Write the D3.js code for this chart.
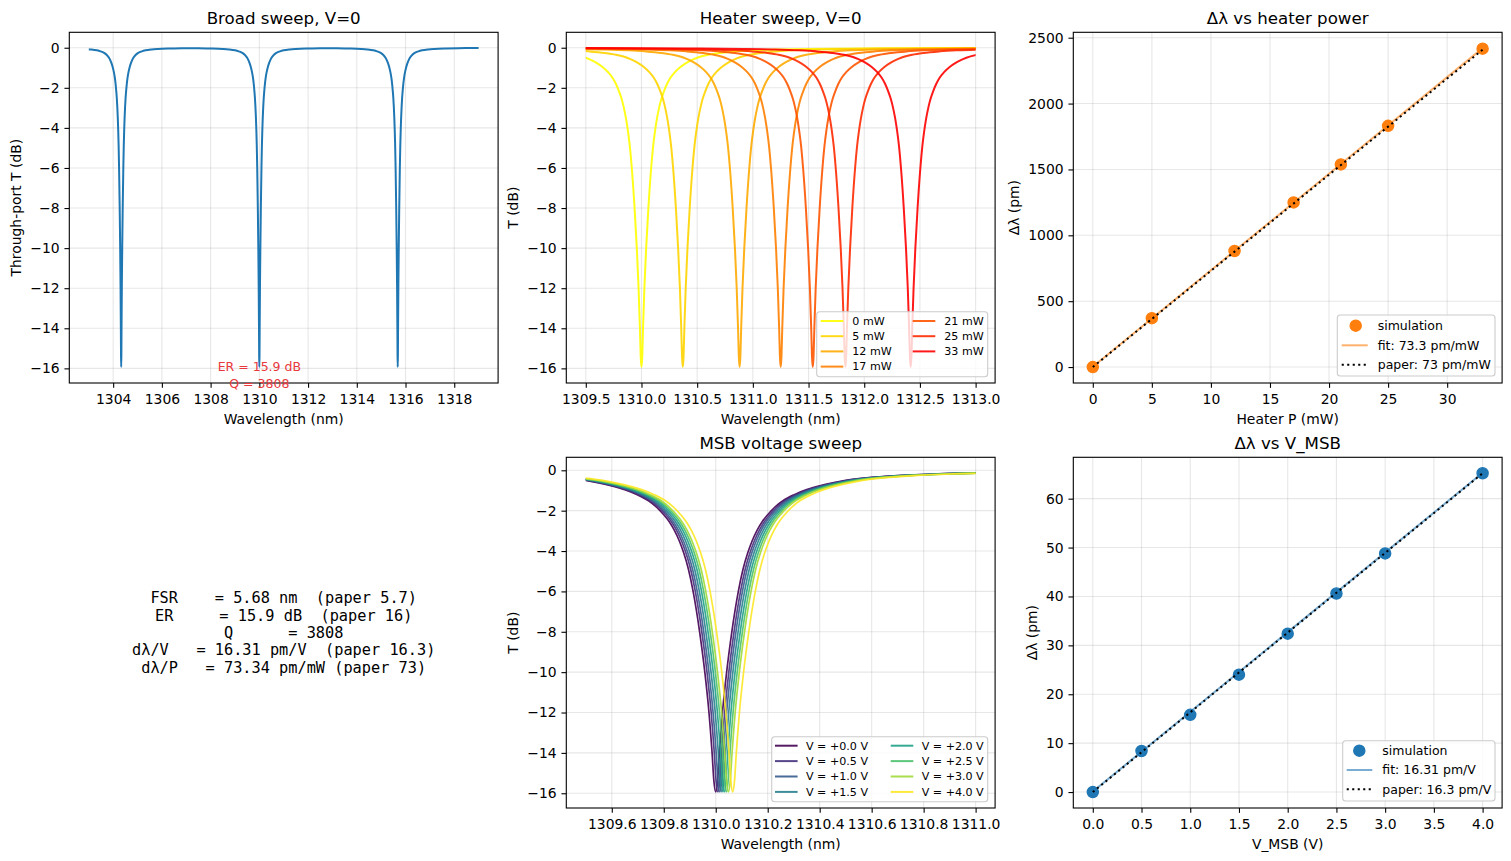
<!DOCTYPE html>
<html>
<head>
<meta charset="utf-8">
<script src="https://cdn.jsdelivr.net/npm/d3@7"></script>
<style>
  body { margin: 0; background: #fff; }
  svg text { font-family: "DejaVu Sans", sans-serif; }
</style>
</head>
<body>
<svg id="fig" width="1511" height="861"></svg>
<script>
// ---- data ----
// one resonance dip: distance from centre (nm) -> transmission (dB)
const dipOffset = [0, 0.007, 0.014, 0.026, 0.042, 0.062, 0.087, 0.105, 0.123, 0.14, 0.16, 0.18, 0.2, 0.23, 0.26, 0.3, 0.35, 0.4, 0.45, 0.5, 0.6, 0.7, 0.85, 1.0, 1.25, 1.5, 2.0, 2.5, 3.0, 3.5];
const dipDepth  = [-15.93, -15.4, -14, -12, -10, -8, -6, -4.9, -4.1, -3.5, -2.95, -2.52, -2.2, -1.8, -1.5, -1.22, -0.96, -0.77, -0.62, -0.5, -0.35, -0.26, -0.18, -0.13, -0.085, -0.06, -0.035, -0.022, -0.016, -0.012];

const broadRange = [1303, 1319];
const broadCenters = [1304.33, 1310.0, 1315.68];

const heaterRange = [1309.5, 1313.0];
const heaterPower = [0, 5, 12, 17, 21, 25, 33];          // mW
const heaterShift = [0, 371, 881, 1250, 1538, 1831, 2417]; // pm
const heaterFitY = [2, 2421];     // at P = 0 and 33
const heaterPaperY = [0, 2409];

const msbRange = [1309.5, 1311.0];
const msbVolt = [0, 0.5, 1.0, 1.5, 2.0, 2.5, 3.0, 4.0];
const msbShift = [0, 8.4, 15.8, 24.0, 32.4, 40.6, 48.8, 65.2]; // pm
const msbFitY = [0.1, 65.3];      // at V = 0 and 4
const msbPaperY = [0, 65.2];

const baseLambda = 1310.0;

const summaryLines = [
  "FSR    = 5.68 nm  (paper 5.7)",
  "ER     = 15.9 dB  (paper 16)",
  "Q      = 3808",
  "dλ/V   = 16.31 pm/V  (paper 16.3)",
  "dλ/P   = 73.34 pm/mW (paper 73)"
];
const erNote = ["ER = 15.9 dB", "Q = 3808"];

const ticksBroadX = [1304, 1306, 1308, 1310, 1312, 1314, 1316, 1318];
const ticksDbY = [0, -2, -4, -6, -8, -10, -12, -14, -16];
const ticksHeaterX = [1309.5, 1310.0, 1310.5, 1311.0, 1311.5, 1312.0, 1312.5, 1313.0];
const ticksPowerX = [0, 5, 10, 15, 20, 25, 30];
const ticksShiftPY = [0, 500, 1000, 1500, 2000, 2500];
const ticksMsbX = [1309.6, 1309.8, 1310.0, 1310.2, 1310.4, 1310.6, 1310.8, 1311.0];
const ticksVoltX = [0.0, 0.5, 1.0, 1.5, 2.0, 2.5, 3.0, 3.5, 4.0];
const ticksShiftVY = [0, 10, 20, 30, 40, 50, 60];

// ---- figure ----
const svg = d3.select("#fig");
const W = 428.8, H = 350.7;
const tickFont = 13.9;
const C0 = "#1f77b4", C1 = "#ff7f0e";

function dipPoints(center, lo, hi) {
  const pts = [];
  for (let i = dipOffset.length - 1; i > 0; i--) pts.push([center - dipOffset[i], dipDepth[i]]);
  for (let i = 0; i < dipOffset.length; i++) pts.push([center + dipOffset[i], dipDepth[i]]);
  return pts.filter(p => p[0] >= lo && p[0] <= hi);
}

let clipCount = 0;
function makeAxes(o) {
  const x = d3.scaleLinear().domain(o.xDomain).range([o.left, o.left + W]);
  const y = d3.scaleLinear().domain(o.yDomain).range([o.top + H, o.top]);
  const g = svg.append("g");

  const grid = g.append("g").attr("stroke", "#b0b0b0").attr("stroke-opacity", 0.3).attr("stroke-width", 1.1);
  grid.selectAll(".gx").data(o.xTicks).join("line")
    .attr("x1", d => x(d)).attr("x2", d => x(d)).attr("y1", o.top).attr("y2", o.top + H);
  grid.selectAll(".gy").data(o.yTicks).join("line")
    .attr("y1", d => y(d)).attr("y2", d => y(d)).attr("x1", o.left).attr("x2", o.left + W);

  const id = "clip" + (clipCount++);
  svg.append("clipPath").attr("id", id).append("rect")
    .attr("x", o.left).attr("y", o.top).attr("width", W).attr("height", H);
  const plot = g.append("g").attr("clip-path", `url(#${id})`);

  const over = g.append("g");
  const xa = over.append("g").attr("transform", `translate(0,${o.top + H})`)
    .call(d3.axisBottom(x).tickValues(o.xTicks).tickFormat(o.xFmt).tickSize(4.86).tickPadding(6.2))
    .attr("font-family", "DejaVu Sans").attr("font-size", tickFont);
  xa.select(".domain").remove();
  xa.selectAll("line").attr("stroke-width", 1.1);
  xa.selectAll("text").attr("fill", "#000");

  const ya = over.append("g").attr("transform", `translate(${o.left},0)`)
    .call(d3.axisLeft(y).tickValues(o.yTicks).tickFormat(o.yFmt).tickSize(4.86).tickPadding(4.86))
    .attr("font-family", "DejaVu Sans").attr("font-size", tickFont);
  ya.select(".domain").remove();
  ya.selectAll("line").attr("stroke-width", 1.1);
  ya.selectAll("text").attr("fill", "#000");

  over.append("rect").attr("x", o.left).attr("y", o.top).attr("width", W).attr("height", H)
    .attr("fill", "none").attr("stroke", "#000").attr("stroke-width", 1.1);

  over.append("text").attr("x", o.left + W / 2).attr("y", o.top - 8.3)
    .attr("text-anchor", "middle").attr("font-size", 16.67).text(o.title);
  over.append("text").attr("x", o.left + W / 2).attr("y", o.top + H + 41)
    .attr("text-anchor", "middle").attr("font-size", tickFont).text(o.xLabel);
  const yw = ya.node().getBBox().width;
  over.append("text")
    .attr("transform", `translate(${o.left - yw - 8.9},${o.top + H / 2}) rotate(-90)`)
    .attr("text-anchor", "middle").attr("font-size", tickFont).text(o.yLabel);

  return { x, y, plot, over };
}

function seriesClip(ax, range) {
  const id = "clip" + (clipCount++);
  svg.append("clipPath").attr("id", id).append("rect")
    .attr("x", ax.x(range[0])).attr("y", ax.y.range()[1])
    .attr("width", ax.x(range[1]) - ax.x(range[0])).attr("height", H);
  return ax.plot.append("g").attr("clip-path", `url(#${id})`);
}

function lineGen(ax) {
  return d3.line().x(d => ax.x(d[0])).y(d => ax.y(d[1])).curve(d3.curveMonotoneX);
}

function legendBox(x0, y0, w, h) {
  const g = svg.append("g").attr("transform", `translate(${x0},${y0})`);
  g.append("rect").attr("width", w).attr("height", h).attr("rx", 3)
    .attr("fill", "#fff").attr("fill-opacity", 0.8).attr("stroke", "#cccccc").attr("stroke-width", 1.1);
  return g;
}

const lefts = [69.3, 566.3, 1073.3];
const tops = [32.3, 457.3];
const fmtD = d3.format("d"), fmt1 = d3.format(".1f");

// ---- panel 1: broad sweep ----
const a1 = makeAxes({
  left: lefts[0], top: tops[0], xDomain: [1302.2, 1319.8], yDomain: [-16.73, 0.77],
  xTicks: ticksBroadX, yTicks: ticksDbY, xFmt: fmtD, yFmt: fmtD,
  title: "Broad sweep, V=0", xLabel: "Wavelength (nm)", yLabel: "Through-port T (dB)"
});
{
  let pts = [];
  broadCenters.forEach((c, i) => {
    const lo = i === 0 ? broadRange[0] - 0.6 : (broadCenters[i - 1] + c) / 2;
    const hi = i === broadCenters.length - 1 ? broadRange[1] + 0.6 : (broadCenters[i + 1] + c) / 2;
    pts = pts.concat(dipPoints(c, lo, hi));
  });
  seriesClip(a1, broadRange).append("path").datum(pts)
    .attr("fill", "none").attr("stroke", C0).attr("stroke-width", 2).attr("d", lineGen(a1));
  const note = a1.over.append("text").attr("text-anchor", "middle").attr("font-size", 12.5)
    .attr("fill", "#e8383c").attr("x", a1.x(baseLambda));
  erNote.forEach((t, i) => note.append("tspan").attr("x", a1.x(baseLambda))
    .attr("y", a1.y(-15.9) + 4.8 + i * 16.6).text(t));
}

// ---- panel 2: heater sweep ----
const a2 = makeAxes({
  left: lefts[1], top: tops[0], xDomain: [1309.325, 1313.175], yDomain: [-16.73, 0.77],
  xTicks: ticksHeaterX, yTicks: ticksDbY, xFmt: fmt1, yFmt: fmtD,
  title: "Heater sweep, V=0", xLabel: "Wavelength (nm)", yLabel: "T (dB)"
});
const heaterColor = i => d3.rgb(255, 255 * (1 - i / (heaterPower.length - 1)), 0).formatHex();
{
  const layer = seriesClip(a2, heaterRange);
  heaterShift.forEach((s, i) => {
    const c = baseLambda + s / 1000;
    layer.append("path").datum(dipPoints(c, heaterRange[0] - 0.6, heaterRange[1] + 0.6))
      .attr("fill", "none").attr("stroke", heaterColor(i)).attr("stroke-opacity", 0.9)
      .attr("stroke-width", 2).attr("d", lineGen(a2));
  });
  const lg = legendBox(816.7, 311.7, 171, 65);
  heaterPower.forEach((p, i) => {
    const col = i < 4 ? 0 : 1, row = i < 4 ? i : i - 4;
    const lx = col === 0 ? 4 : 96, ty = 9.3 + row * 15.2;
    lg.append("line").attr("x1", lx).attr("x2", lx + 22.6).attr("y1", ty).attr("y2", ty)
      .attr("stroke", heaterColor(i)).attr("stroke-opacity", 0.9).attr("stroke-width", 2);
    lg.append("text").attr("x", lx + 31.6).attr("y", ty).attr("dy", "0.35em")
      .attr("font-size", 11.1).text(`${p} mW`);
  });
}

// ---- panel 3: shift vs heater power ----
const a3 = makeAxes({
  left: lefts[2], top: tops[0], xDomain: [-1.65, 34.65], yDomain: [-121, 2541],
  xTicks: ticksPowerX, yTicks: ticksShiftPY, xFmt: fmtD, yFmt: fmtD,
  title: "Δλ vs heater power", xLabel: "Heater P (mW)", yLabel: "Δλ (pm)"
});
{
  const ends = [heaterPower[0], heaterPower[heaterPower.length - 1]];
  a3.plot.selectAll("circle").data(heaterPower).join("circle")
    .attr("cx", d => a3.x(d)).attr("cy", (d, i) => a3.y(heaterShift[i])).attr("r", 5.6)
    .attr("fill", C1).attr("stroke", C1).attr("stroke-width", 1.3);
  a3.plot.append("line").attr("x1", a3.x(ends[0])).attr("x2", a3.x(ends[1]))
    .attr("y1", a3.y(heaterFitY[0])).attr("y2", a3.y(heaterFitY[1]))
    .attr("stroke", C1).attr("stroke-opacity", 0.6).attr("stroke-width", 2);
  a3.plot.append("line").attr("x1", a3.x(ends[0])).attr("x2", a3.x(ends[1]))
    .attr("y1", a3.y(heaterPaperY[0])).attr("y2", a3.y(heaterPaperY[1]))
    .attr("stroke", "#000").attr("stroke-width", 2).attr("stroke-dasharray", "2.1,3.4");
  const lg = legendBox(1337.3, 315, 157.7, 61);
  lg.append("circle").attr("cx", 18.4).attr("cy", 10.7).attr("r", 5.6).attr("fill", C1).attr("stroke", C1).attr("stroke-width", 1.3);
  lg.append("line").attr("x1", 4.4).attr("x2", 30.4).attr("y1", 30.3).attr("y2", 30.3)
    .attr("stroke", C1).attr("stroke-opacity", 0.6).attr("stroke-width", 2);
  lg.append("line").attr("x1", 4.4).attr("x2", 30.4).attr("y1", 49.7).attr("y2", 49.7)
    .attr("stroke", "#000").attr("stroke-width", 2).attr("stroke-dasharray", "2.1,3.4");
  ["simulation", "fit: 73.3 pm/mW", "paper: 73 pm/mW"].forEach((t, i) =>
    lg.append("text").attr("x", 40.4).attr("y", 10.7 + i * 19.5).attr("dy", "0.35em")
      .attr("font-size", 12.5).text(t));
}

// ---- summary text (no axes) ----
{
  const t = svg.append("text").attr("text-anchor", "middle").attr("font-size", 15.28)
    .style("font-family", '"DejaVu Sans Mono", monospace').style("white-space", "pre");
  summaryLines.forEach((s, i) => t.append("tspan").attr("x", lefts[0] + W / 2)
    .attr("y", tops[1] + H / 2 + (i - 2) * 17.4).attr("dy", "0.35em").text(s));
}

// ---- panel 4: MSB voltage sweep ----
const a4 = makeAxes({
  left: lefts[1], top: tops[1], xDomain: [1309.425, 1311.075], yDomain: [-16.73, 0.644],
  xTicks: ticksMsbX, yTicks: ticksDbY, xFmt: fmt1, yFmt: fmtD,
  title: "MSB voltage sweep", xLabel: "Wavelength (nm)", yLabel: "T (dB)"
});
const msbColor = i => d3.interpolateViridis(i / (msbVolt.length - 1));
{
  const layer = seriesClip(a4, msbRange);
  msbShift.forEach((s, i) => {
    const c = baseLambda + s / 1000;
    layer.append("path").datum(dipPoints(c, msbRange[0] - 0.6, msbRange[1] + 0.6))
      .attr("fill", "none").attr("stroke", msbColor(i)).attr("stroke-opacity", 0.9)
      .attr("stroke-width", 1.7).attr("d", lineGen(a4));
  });
  const lg = legendBox(771.7, 736.7, 216, 65);
  msbVolt.forEach((v, i) => {
    const col = i < 4 ? 0 : 1, row = i % 4;
    const lx = col === 0 ? 3.3 : 119, ty = 9 + row * 15.4;
    lg.append("line").attr("x1", lx).attr("x2", lx + 22.6).attr("y1", ty).attr("y2", ty)
      .attr("stroke", msbColor(i)).attr("stroke-opacity", 0.9).attr("stroke-width", 2);
    lg.append("text").attr("x", lx + 31).attr("y", ty).attr("dy", "0.35em")
      .attr("font-size", 11.1).text(`V = +${v.toFixed(1)} V`);
  });
}

// ---- panel 5: shift vs V_MSB ----
const a5 = makeAxes({
  left: lefts[2], top: tops[1], xDomain: [-0.2, 4.2], yDomain: [-3.26, 68.46],
  xTicks: ticksVoltX, yTicks: ticksShiftVY, xFmt: fmt1, yFmt: fmtD,
  title: "Δλ vs V_MSB", xLabel: "V_MSB (V)", yLabel: "Δλ (pm)"
});
{
  const ends = [msbVolt[0], msbVolt[msbVolt.length - 1]];
  a5.plot.selectAll("circle").data(msbVolt).join("circle")
    .attr("cx", d => a5.x(d)).attr("cy", (d, i) => a5.y(msbShift[i])).attr("r", 5.6)
    .attr("fill", C0).attr("stroke", C0).attr("stroke-width", 1.3);
  a5.plot.append("line").attr("x1", a5.x(ends[0])).attr("x2", a5.x(ends[1]))
    .attr("y1", a5.y(msbFitY[0])).attr("y2", a5.y(msbFitY[1]))
    .attr("stroke", C0).attr("stroke-opacity", 0.6).attr("stroke-width", 2);
  a5.plot.append("line").attr("x1", a5.x(ends[0])).attr("x2", a5.x(ends[1]))
    .attr("y1", a5.y(msbPaperY[0])).attr("y2", a5.y(msbPaperY[1]))
    .attr("stroke", "#000").attr("stroke-width", 2).attr("stroke-dasharray", "2.1,3.4");
  const lg = legendBox(1342.7, 740.7, 152.3, 60.3);
  lg.append("circle").attr("cx", 16.6).attr("cy", 10).attr("r", 5.6).attr("fill", C0).attr("stroke", C0).attr("stroke-width", 1.3);
  lg.append("line").attr("x1", 4).attr("x2", 29.6).attr("y1", 29.3).attr("y2", 29.3)
    .attr("stroke", C0).attr("stroke-opacity", 0.6).attr("stroke-width", 2);
  lg.append("line").attr("x1", 4).attr("x2", 29.6).attr("y1", 48.6).attr("y2", 48.6)
    .attr("stroke", "#000").attr("stroke-width", 2).attr("stroke-dasharray", "2.1,3.4");
  ["simulation", "fit: 16.31 pm/V", "paper: 16.3 pm/V"].forEach((t, i) =>
    lg.append("text").attr("x", 39.6).attr("y", 10 + i * 19.3).attr("dy", "0.35em")
      .attr("font-size", 12.5).text(t));
}
</script>
</body>
</html>
